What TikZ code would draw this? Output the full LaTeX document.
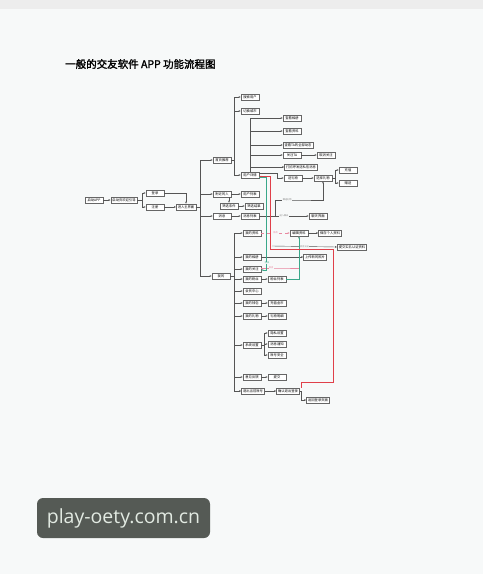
\documentclass[tikz,border=0pt]{standalone}
\usepackage{fontspec}
\newfontfamily\cjk{Noto Sans CJK SC}[AutoFakeBold=2]
\newfontfamily\wmfont{Open Sans}
\usepackage{tikz}
\usetikzlibrary{arrows.meta}

\definecolor{pagebg}{HTML}{F7F9F9}
\definecolor{topband}{HTML}{EDEDED}
\definecolor{boxline}{HTML}{666666}
\definecolor{wirec}{HTML}{555555}
\definecolor{wmbg}{HTML}{555A55}
\definecolor{wmtext}{HTML}{E2EAE2}
\definecolor{redc}{HTML}{E0404A}
\definecolor{greenc}{HTML}{3AA88A}
\definecolor{pinkc}{HTML}{E888A0}

\tikzset{
  >={Latex[length=2pt,width=1.8pt]},
  box/.style={draw=boxline, fill=white, line width=0.45pt, minimum width=18pt,
    minimum height=6pt, inner sep=0pt, inner xsep=1.5pt,
    font=\cjk\fontsize{3.3}{4}\selectfont},
  wire/.style={draw=wirec, line width=0.4pt, ->},
  redwire/.style={draw=redc, line width=0.6pt, ->},
  greenwire/.style={draw=greenc, line width=0.5pt, ->},
  pinkwire/.style={draw=pinkc, line width=0.5pt, ->},
  lbl/.style={font=\cjk\fontsize{2.2}{2.5}\selectfont, text=gray, fill=pagebg, inner sep=0.4pt}
}

\begin{document}
\begin{tikzpicture}[x=1pt,y=-1pt]
        % page
        \fill[pagebg] (0,0) rectangle (483,574);
        \fill[topband] (0,0) rectangle (483,9);
        \useasboundingbox (0,0) rectangle (483,574);

        \node (title) at (65,64) [anchor=west, inner sep=0pt, font=\cjk\bfseries\fontsize{10.5}{13}\selectfont] {一般的交友软件 APP 功能流程图};

        % start
        \node (start) at (94,200) [box] {启动APP};
        \node (guide) at (124,200) [box] {启动页欢迎引导};
        \node (login) at (155,193) [box] {登录};
        \node (reg) at (155,207) [box] {注册};
        \node (frame) at (186,207) [box] {进入主界面};

        % main tabs
        \node (home) at (222,160) [box] {首页推荐};
        \node (near) at (222,194) [box] {附近的人};
        \node (msg) at (222,216) [box] {消息};
        \node (mine) at (221,276) [box] {我的};

        % home
        \node (srch) at (250,97) [box] {搜索用户};
        \node (city) at (250,111) [box] {切换城市};
        \node (user) at (250,175) [box] {用户详情};
        \node (album) at (292,118) [box] {查看相册};
        \node (profile) at (292,131) [box] {查看资料};
        \node (moments) at (298,145) [box] {查看TA的全部动态};
        \node (follow) at (292,155) [box] {关注TA};
        \node (unfollow) at (326,155) [box] {取消关注};
        \node (greet) at (301,167) [box] {打招呼发送私信消息};
        \node (gift) at (293,178) [box] {送礼物};
        \node (pickgift) at (323,178) [box] {选择礼物};
        \node (recharge) at (348,170) [box] {充值};
        \node (send) at (348,183) [box] {赠送};

        % nearby
        \node (nearlist) at (250,194) [box] {用户列表};
        \node (filter) at (229,206) [box] {筛选条件};
        \node (result) at (254,206) [box] {筛选结果};

        % messages
        \node (msglist) at (250,216) [box] {消息列表};
        \node (chat) at (318,216) [box] {聊天界面};

        % mine
        \node (myinfo) at (252,233) [box] {我的资料};
        \node (editinfo) at (299,233) [box] {编辑资料};
        \node (saveinfo) at (330,233) [box] {保存个人资料};
        \node (auth) at (352,247) [box] {提交实名认证资料};
        \node (myalbum) at (252,257) [box] {我的相册};
        \node (upload) at (315,257) [box] {上传新的照片};
        \node (myfollow) at (252,269) [box] {我的关注};
        \node (myfans) at (252,279) [box] {我的粉丝};
        \node (fanslist) at (277,279) [box] {粉丝列表};
        \node (vip) at (252,291) [box] {会员中心};
        \node (wallet) at (252,303) [box] {我的钱包};
        \node (topup) at (277,303) [box] {充值金币};
        \node (mygift) at (252,316) [box] {我的礼物};
        \node (giftlog) at (277,316) [box] {礼物明细};
        \node (setting) at (252,345) [box] {系统设置};
        \node (privacy) at (277,333) [box] {隐私设置};
        \node (notify) at (277,344) [box] {消息通知};
        \node (safety) at (277,355) [box] {账号安全};
        \node (feedback) at (252,377) [box] {意见反馈};
        \node (submit) at (277,377) [box] {提交};
        \node (logout) at (253,391) [box] {退出当前账号};
        \node (confirm) at (288,391) [box] {确认退出登录};
        \node (back) at (318,400) [box] {返回登录页面};

        % main chain
        \draw[wire] (start) -- (guide);
        \draw[wire] (guide.east) -- ++(5,0) |- (login.west);
        \draw[wire] (guide.east) -- ++(5,0) |- (reg.west);
        \draw[wire] (login.east) -| (frame.north);
        \draw[wire] (reg) -- (frame);
        \foreach \t in {home,near,msg,mine}
            \draw[wire] (frame.east) -- ++(4,0) |- (\t.west);

        % home links
        \foreach \t in {srch,city,user}
            \draw[wire] (home.east) -- ++(3,0) |- (\t.west);
        \foreach \t in {album,profile,moments,follow,greet}
            \draw[wire] (user.north) |- (\t.west);
        \draw[wire] (follow) -- (unfollow);
        \draw[wire] ([yshift=1.5pt]user.east) -- ++(18,0) |- (gift.west);
        \draw[wire] (gift) -- (pickgift);
        \foreach \t in {recharge,send}
            \draw[wire] (pickgift.east) -- ++(3,0) |- (\t.west);

        % nearby links
        \draw[wire] (near) -- (nearlist);
        \draw[wire] (near.south -| filter.north) -- (filter.north);
        \draw[wire] (filter) -- (result);

        % message links
        \draw[wire] (msg) -- (msglist);
        \draw[wire] (msglist) -- (chat) node[lbl, midway] {进入聊天};
        \draw[wire] (msglist.east) -- ++(16,0) -- ++(0,-16) -- ++(24,0) node[lbl, midway] {赠送礼物} -| (pickgift.south);

        % mine links
        \foreach \t in {myinfo,myalbum,myfollow,myfans,vip,wallet,mygift,setting,feedback,logout}
            \draw[wire] (mine.east) -- ++(4,0) |- (\t.west);
        \draw[pinkwire, dashed] (myinfo) -- (editinfo) node[lbl, midway, text=pinkc] {修改};
        \draw[wire] (editinfo) -- (saveinfo);
        \draw[wire] (myalbum) -- (upload);
        \draw[wire] (myfans) -- (fanslist);
        \draw[wire] (wallet) -- (topup);
        \draw[wire] (mygift) -- (giftlog);
        \foreach \t in {privacy,notify,safety}
            \draw[wire] (setting.east) -- ++(3,0) |- (\t.west);
        \draw[wire] (feedback) -- (submit);
        \draw[wire] (logout) -- (confirm);
        \draw[wire] (confirm.east) -- ++(2,0) |- (back.west);

        \coordinate (authfrom) at (272,246);
        \draw[wire] (authfrom) -- (auth.west) node[lbl, midway] {实名认证};

        % coloured links
        \draw[pinkwire] ([yshift=1pt]myfollow.east) -- ++(20,0) node[lbl, midway, text=pinkc] {取消} -| (editinfo.south);
        \draw[greenwire] (fanslist.east) -| (editinfo.south);
        \draw[greenwire] ([yshift=-2.5pt]user.east) -- ++(7,0) |- ([yshift=-1pt]myfollow.east);
        \node (glabel) at (267,263) [lbl, text=greenc] {回关};
        \draw[redwire] ([xshift=2pt]confirm.north east) -- ++(0,-5) -- ++(32,0) -- ++(0,-133) -- ++(-63,0) |- ([yshift=-1.5pt]user.east);

        % watermark
        \node (wm) at (123.5,518) [fill=wmbg, rounded corners=6pt, minimum width=173pt, minimum height=40pt, text=wmtext, font=\wmfont\fontsize{19.5}{22}\selectfont] {play-oety.com.cn};
    \end{tikzpicture}
\end{document}
